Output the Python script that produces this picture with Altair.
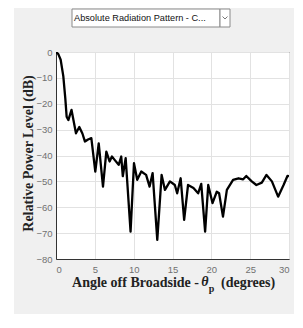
import altair as alt
import pandas as pd

# ---- data ----
angle = [0, 0.3, 0.6, 0.94, 1.2, 1.37, 1.59, 2.0, 2.57, 3.0, 3.4, 3.73, 4.12, 4.55,
         5.06, 5.5, 6.05, 6.48, 6.9, 7.2, 7.55, 8.07, 8.4, 8.6, 8.97, 9.6, 10.04, 10.46,
         10.98, 11.6, 12.05, 12.44, 13.04, 13.6, 14.03, 14.67, 15.3, 15.6, 16.05, 16.5,
         17.0, 17.7, 18.3, 18.7, 19.2, 19.6, 20.15, 20.7, 21.0, 21.5, 22.0, 22.8, 23.5,
         24.1, 24.5, 25.2, 25.8, 26.5, 27.1, 27.8, 28.6, 29.3, 29.8, 30.0]
power = [0, -0.8, -3, -9.3, -18, -25, -26.3, -22.4, -31.4, -29, -31.5, -34.6, -33.8, -33.3,
         -46.2, -35.3, -52, -38.5, -42.3, -40.4, -41.7, -43.6, -40.4, -48, -41, -69.4, -43, -49.4,
         -46.2, -47.5, -52, -46.8, -72.6, -47.5, -53.3, -50, -51.4, -54.6, -48.8, -64.9,
         -51.4, -52.6, -54.6, -51, -69.4, -51.4, -58.4, -54, -54.6, -63.6, -53.3, -49.4, -48.8,
         -49.2, -47.9, -50, -51.4, -50.5, -47.5, -50, -55.9, -51.4, -47.9, -48]
x_ticks = [0, 5, 10, 15, 20, 25, 30]
y_ticks = [0, -10, -20, -30, -40, -50, -60, -70, -80]
dropdown_text = ["Absolute Radiation Pattern - C..."]
y_title = "Relative Power Level (dB)"
x_title_parts = ["Angle off Broadside - ", "θ", "p", "(degrees)"]

W, H = 233, 207
df = pd.DataFrame({"angle": angle, "power": power})
one = pd.DataFrame({"a": [0]})

line = alt.Chart(df).mark_line(color="black", strokeWidth=2.3, clip=True,
                               strokeJoin="round").encode(
    x=alt.X("angle:Q", scale=alt.Scale(domain=[0, 30], nice=False),
            axis=alt.Axis(values=x_ticks, title=None, grid=True, gridColor="#e2e2e2",
                          labelColor="#707070", labelFont="Liberation Sans", labelFontSize=9.5,
                          labelPadding=5, ticks=False, domainColor="#333333")),
    y=alt.Y("power:Q", scale=alt.Scale(domain=[-80, 0], nice=False),
            axis=alt.Axis(values=y_ticks, title=y_title, grid=True, gridColor="#e2e2e2",
                          labelColor="#707070", labelFont="Liberation Sans", labelFontSize=9.5,
                          labelPadding=4, ticks=False, domainColor="#333333",
                          titleFont="Liberation Serif", titleFontSize=14, titleFontWeight="bold",
                          titleColor="#222222", titleX=-28, titleY=101, titleBaseline="middle",
                          titleAngle=270)),
)

# white strip on the left (outside the gray panel)
strip = alt.Chart(one).mark_rect(color="white").encode(
    x=alt.value(-48), x2=alt.value(-42), y=alt.value(-44), y2=alt.value(270))

# dropdown box
box = alt.Chart(one).mark_rect(fill="white", stroke="#8a8a8a", strokeWidth=1).encode(
    x=alt.value(16), x2=alt.value(164), y=alt.value(-43), y2=alt.value(-25))
arrow_box = alt.Chart(one).mark_rect(fill="white", stroke="#8a8a8a", strokeWidth=1).encode(
    x=alt.value(164), x2=alt.value(174), y=alt.value(-43), y2=alt.value(-25))
chev1 = alt.Chart(one).mark_rule(color="#777777", strokeWidth=1).encode(
    x=alt.value(166.5), x2=alt.value(169), y=alt.value(-35.5), y2=alt.value(-33))
chev2 = alt.Chart(one).mark_rule(color="#777777", strokeWidth=1).encode(
    x=alt.value(169), x2=alt.value(171.5), y=alt.value(-33), y2=alt.value(-35.5))
dd_text = alt.Chart(pd.DataFrame({"t": dropdown_text})).mark_text(
    align="left", baseline="middle", font="Liberation Sans", fontSize=9.2, color="#111111").encode(
    x=alt.value(18), y=alt.value(-34), text="t:N")

tfont = dict(font="Liberation Serif", fontWeight="bold", color="#222222", baseline="middle")
xt1 = alt.Chart(pd.DataFrame({"t": [x_title_parts[0]]})).mark_text(
    align="right", fontSize=14, **tfont).encode(x=alt.value(143), y=alt.value(231), text="t:N")
xt2 = alt.Chart(pd.DataFrame({"t": [x_title_parts[1]]})).mark_text(
    align="center", fontSize=14, fontStyle="italic", **tfont).encode(x=alt.value(149), y=alt.value(230), text="t:N")
xt3 = alt.Chart(pd.DataFrame({"t": [x_title_parts[2]]})).mark_text(
    align="center", fontSize=10, **tfont).encode(x=alt.value(155.5), y=alt.value(237), text="t:N")
xt4 = alt.Chart(pd.DataFrame({"t": [x_title_parts[3]]})).mark_text(
    align="left", fontSize=14, **tfont).encode(x=alt.value(165), y=alt.value(231), text="t:N")

chart = alt.layer(line, strip, box, arrow_box, chev1, chev2, dd_text, xt1, xt2, xt3, xt4).properties(
    width=W, height=H,
    autosize=alt.AutoSizeParams(type="none"),
    padding={"left": 48, "top": 44, "right": 5, "bottom": 55},
    background="#f0f0f0",
).configure_view(fill="white", stroke="#262626", strokeWidth=1)

chart.save("out.html", embed_options={"renderer": "svg", "actions": False})
